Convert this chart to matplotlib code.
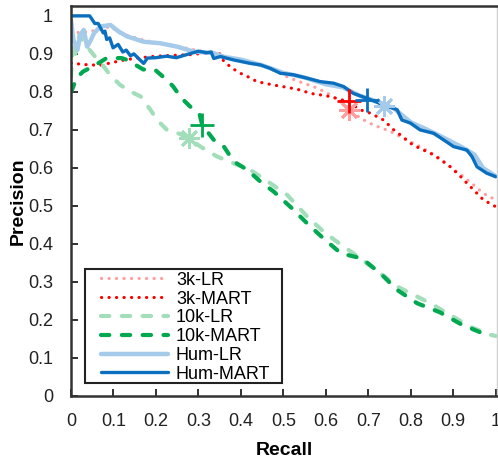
import matplotlib
matplotlib.use("Agg")
import matplotlib.pyplot as plt
from matplotlib.legend_handler import HandlerLine2D
from matplotlib.patches import Rectangle

plt.rcParams['font.family'] = ['Liberation Sans', 'DejaVu Sans']

labels = ["3k-LR", "3k-MART", "10k-LR", "10k-MART", "Hum-LR", "Hum-MART"]

lr3k_x = [0, .02, .046, .07, .093, .115, .14, .175, .21, .25, .289, .33, .368, .41, .446, .485, .516, .55, .58, .611,
          .64, .66, .681, .712, .752, .783, .822, .862, .893, .924, .948, .971, 1.0]
lr3k_y = [.963, .955, .959, .965, .972, .955, .946, .935, .928, .92, .911, .902, .893, .882, .871, .853, .836, .822, .81, .792,
          .77, .752, .731, .713, .696, .678, .656, .63, .603, .577, .555, .533, .516]

mart3k_x = [0, .03, .068, .1, .13, .165, .2, .24, .28, .342, .35, .36, .38, .399, .42, .438, .477, .509, .54, .564,
            .6, .626, .65, .658, .681, .705, .736, .76, .78, .799, .82, .846, .87, .893, .915, .932, .95, .971, 1.0]
mart3k_y = [.876, .872, .87, .878, .885, .89, .894, .896, .898, .905, .9, .88, .862, .849, .838, .827, .818, .812, .805, .796,
            .79, .783, .775, .77, .753, .744, .726, .7, .683, .665, .652, .639, .622, .603, .58, .56, .54, .516, .498]

lr10k_x = [0, .004, .01, .02, .03, .04, .055, .068, .091, .115, .138, .164, .187, .203, .226, .255, .277, .305, .344, .383,
           .422, .469, .509, .556, .595, .626, .665, .697, .728, .768, .807, .846, .893, .94, .987, 1.0]
lr10k_y = [.84, .93, .9, .95, .93, .916, .895, .88, .846, .819, .802, .788, .753, .726, .70, .69, .678, .656, .63, .612,
           .595, .56, .529, .472, .432, .406, .375, .349, .323, .288, .266, .244, .213, .182, .161, .158]

mart10k_x = [0, .004, .013, .029, .052, .084, .119, .13, .158, .17, .197, .225, .24, .26, .28, .303, .309, .336, .36, .383,
             .415, .446, .477, .522, .557, .596, .636, .685, .73, .768, .815, .869, .918, .969, .99]
mart10k_y = [.8, .81, .837, .854, .867, .889, .889, .885, .867, .859, .859, .832, .815, .784, .762, .74, .713, .674, .656, .617,
             .595, .564, .538, .492, .453, .413, .375, .362, .321, .279, .244, .22, .189, .165, .16]

lrhum_x = [0, .005, .015, .022, .03, .038, .046, .054, .069, .093, .112, .132, .171, .21, .25, .289, .336, .36, .4, .45,
           .5, .55, .6, .64, .68, .72, .76, .8, .84, .88, .92, .95, .97, 1.0]
lrhum_y = [.99, .94, .91, .95, .963, .919, .935, .954, .972, .976, .959, .946, .932, .928, .919, .906, .902, .892, .885, .87,
           .85, .838, .82, .812, .79, .775, .757, .72, .70, .678, .655, .635, .60, .578]

marthum_x = [0, .044, .056, .064, .076, .08, .084, .091, .099, .111, .122, .13, .14, .148, .171, .18, .2, .225, .248, .272,
             .3, .32, .33, .336, .352, .383, .422, .446, .469, .493, .524, .556, .587, .618, .642, .658, .665, .697, .736, .768,
             .779, .799, .822, .854, .877, .901, .932, .944, .956, .979, 1.0]
marthum_y = [1, 1, .98, .98, .955, .96, .938, .942, .916, .925, .905, .91, .895, .9, .875, .889, .89, .894, .89, .898,
             .907, .903, .905, .888, .893, .884, .875, .871, .862, .849, .845, .836, .827, .823, .814, .801, .796, .783, .766, .753,
             .726, .718, .7, .691, .674, .656, .647, .63, .603, .586, .577]

# operating-point markers
mark_x = [.654, .654, .277, .309, .736, .697]
mark_y = [.753, .775, .678, .713, .762, .779]

xticks = [0, .1, .2, .3, .4, .5, .6, .7, .8, .9, 1.0]
xtick_labels = ["0", "0.1", "0.2", "0.3", "0.4", "0.5", "0.6", "0.7", "0.8", "0.9", "1"]
yticks = [0, .1, .2, .3, .4, .5, .6, .7, .8, .9, 1.0]
ytick_labels = ["0", "0.1", "0.2", "0.3", "0.4", "0.5", "0.6", "0.7", "0.8", "0.9", "1"]

colors = ['#FF9E9E', '#FF0000', '#A3DEBA', '#00A84F', '#A6CBEA', '#0A6FBE']

fig = plt.figure(figsize=(4.98, 4.62), dpi=100)
ax = fig.add_axes([71/498, 66/462, 426/498, 390/462])

dot = (0, (0.05, 2.3))
dash_lr = (0, (2.0, 3.0))
dash_m = (0, (2.0, 3.0))

series = [
    (lr3k_x, lr3k_y, dict(color=colors[0], lw=2.3, ls=dot)),
    (mart3k_x, mart3k_y, dict(color=colors[1], lw=2.3, ls=dot)),
    (lr10k_x, lr10k_y, dict(color=colors[2], lw=3.0, ls=dash_lr)),
    (mart10k_x, mart10k_y, dict(color=colors[3], lw=3.0, ls=dash_m)),
    (lrhum_x, lrhum_y, dict(color=colors[4], lw=3.2, ls='-')),
    (marthum_x, marthum_y, dict(color=colors[5], lw=2.4, ls='-')),
]
handles = []
for (x, y, st), lab in zip(series, labels):
    ln, = ax.plot(x, y, label=lab, dash_capstyle='round', solid_capstyle='round',
                  solid_joinstyle='round', **st)
    handles.append(ln)

markers = ['*', '+', '*', '+', '*', '+']
for i in range(6):
    m = (8, 2, 0) if markers[i] == '*' else '+'
    ax.plot([mark_x[i]], [mark_y[i]], ls='none', marker=m, ms=17 if m == '+' else 15,
            mew=2.0, color=colors[i], zorder=5)

ax.set_xlim(0, 1.003)
ax.set_ylim(0, 1.026)
ax.set_xticks(xticks)
ax.set_xticklabels(xtick_labels)
ax.set_yticks(yticks)
ax.set_yticklabels(ytick_labels)
ax.tick_params(direction='in', length=5, width=1.3, labelsize=13, colors='#222222')
ax.tick_params(axis='y', pad=13)
ax.tick_params(axis='x', pad=12)

for s in ['left', 'bottom', 'top']:
    ax.spines[s].set_linewidth(1.8)
    ax.spines[s].set_color('#333333')
ax.spines['right'].set_linewidth(1.0)
ax.spines['right'].set_color('#d0d0d0')

ax.set_xlabel("Recall", fontsize=14, fontweight='bold', labelpad=9)
ax.set_ylabel("Precision", fontsize=14, fontweight='bold', labelpad=1)

# legend frame drawn as a separate box
ax.add_patch(Rectangle((14/426, 13/390), 197/426, 114/390, transform=ax.transAxes,
                       facecolor='white', edgecolor='#222222', lw=1.5, zorder=6))

hmap = {h: HandlerLine2D(xpad=0.7) for h in handles}
leg = ax.legend(handles=handles, loc='lower left', bbox_to_anchor=(0.040, 0.033),
                borderaxespad=0, fontsize=13, handlelength=4.4, handletextpad=0.45,
                labelspacing=0.1, borderpad=0.02, frameon=False, handler_map=hmap)
leg.set_zorder(7)

fig.savefig("out.png", dpi=100)
